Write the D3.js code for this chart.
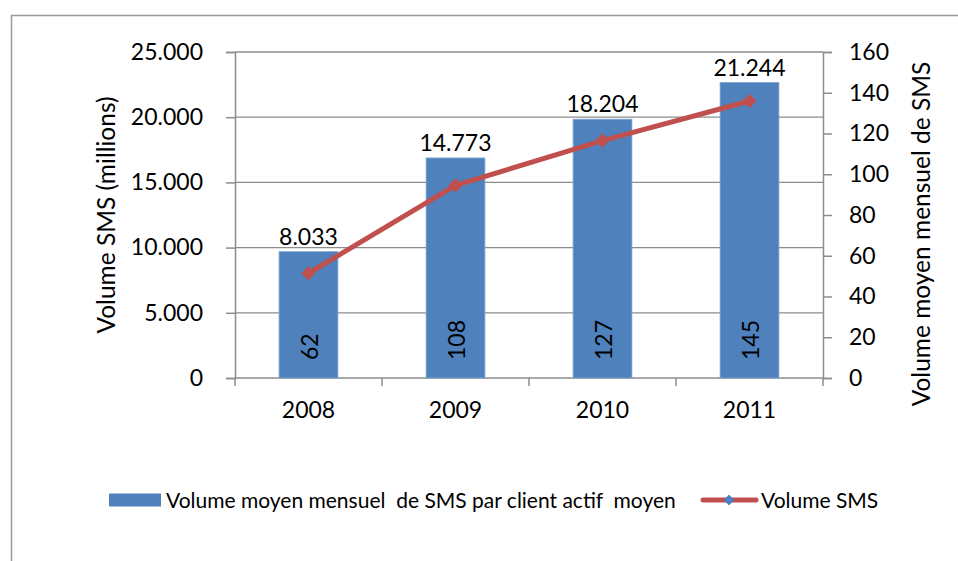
<!DOCTYPE html>
<html>
<head>
<meta charset="utf-8">
<script src="https://cdn.jsdelivr.net/npm/d3@7"></script>
<style>
  html, body { margin: 0; padding: 0; background: #fff; }
  svg { display: block; font-family: Lato, "Liberation Sans", sans-serif; }
</style>
</head>
<body>
<svg id="chart" width="958" height="561"></svg>
<script>
// Years on the category axis
const years = ["2008", "2009", "2010", "2011"];
// Average monthly SMS per active customer (bars, right axis)
const smsPerClient = [62, 108, 127, 145];
// Total SMS volume in millions (line, left axis)
const smsVolume = [8033, 14773, 18204, 21244];
// Axis ticks
const leftTicks = [0, 5000, 10000, 15000, 20000, 25000];
const rightTicks = [0, 20, 40, 60, 80, 100, 120, 140, 160];

const seriesBarName = "Volume moyen mensuel\u00a0 de SMS par client actif\u00a0 moyen";
const seriesLineName = "Volume SMS";

const plot = { left: 235, right: 823, top: 52, bottom: 378 };
const barColor = "#4F81BD";
const lineColor = "#C0504D";
const gridColor = "#8c8c8c";
const tickFont = 23;

const svg = d3.select("#chart");

// Chart frame
svg.append("rect")
  .attr("x", 11.5).attr("y", 15.5)
  .attr("width", 960).attr("height", 600)
  .attr("fill", "none").attr("stroke", "#999").attr("stroke-width", 1.5);

const x = d3.scaleBand().domain(years).range([plot.left, plot.right]);
const yLeft = d3.scaleLinear().domain([0, 25000]).range([plot.bottom, plot.top]);
const yRight = d3.scaleLinear().domain([0, 160]).range([plot.bottom, plot.top]);

const fmt = v => d3.format(",")(v).replace(/,/g, ".");

// Horizontal gridlines
svg.append("g").selectAll("line").data(leftTicks.filter(t => t > 0)).join("line")
  .attr("x1", plot.left).attr("x2", plot.right)
  .attr("y1", d => yLeft(d)).attr("y2", d => yLeft(d))
  .attr("stroke", gridColor).attr("stroke-width", 1.3);

// Left axis
const gl = svg.append("g").attr("transform", `translate(${plot.left},0)`)
  .call(d3.axisLeft(yLeft).tickValues(leftTicks).tickFormat(fmt).tickSize(9).tickPadding(23));
// Right axis
const gr = svg.append("g").attr("transform", `translate(${plot.right},0)`)
  .call(d3.axisRight(yRight).tickValues(rightTicks).tickSize(9).tickPadding(17));
// Bottom axis, ticks at category boundaries
const boundaries = years.map(y => x(y)).concat([plot.right]);
const gb = svg.append("g").attr("transform", `translate(0,${plot.bottom})`)
  .call(d3.axisBottom(x).tickSize(0).tickPadding(24));
gb.selectAll(".bound").data(boundaries).join("line").attr("class", "bound")
  .attr("x1", d => d).attr("x2", d => d).attr("y1", 0).attr("y2", 8)
  .attr("stroke", gridColor).attr("stroke-width", 1.5);

[gl, gr, gb].forEach(g => {
  g.select(".domain").attr("stroke", gridColor).attr("stroke-width", 1.5);
  g.selectAll(".tick line").attr("stroke", gridColor).attr("stroke-width", 1.5);
  g.selectAll("text").attr("font-size", tickFont).attr("fill", "#000")
    .attr("font-family", "Lato, 'Liberation Sans', sans-serif");
});
gb.select(".domain").attr("d", `M${plot.left},0H${plot.right}`);

// Bars
const bw = x.bandwidth() * 0.4;
const bx = d => x(d) + (x.bandwidth() - bw) / 2;
svg.append("g").selectAll("rect").data(years).join("rect")
  .attr("x", d => bx(d))
  .attr("y", (d, i) => yRight(smsPerClient[i]))
  .attr("width", bw)
  .attr("height", (d, i) => plot.bottom - yRight(smsPerClient[i]))
  .attr("fill", barColor)
  .attr("stroke", "#7ea3d2").attr("stroke-width", 0.8);

// Bar value labels, rotated at the base
svg.append("g").selectAll("text").data(years).join("text")
  .attr("transform", d => `translate(${x(d) + x.bandwidth() / 2 + 9},${plot.bottom - 18}) rotate(-90)`)
  .attr("font-size", tickFont).attr("fill", "#000")
  .text((d, i) => smsPerClient[i]);

// Volume labels above the bars
svg.append("g").selectAll("text").data(years).join("text")
  .attr("x", d => x(d) + x.bandwidth() / 2)
  .attr("y", (d, i) => yRight(smsPerClient[i]) - 7)
  .attr("text-anchor", "middle")
  .attr("font-size", tickFont).attr("fill", "#000")
  .text((d, i) => fmt(smsVolume[i]));

// Line series
const cx = d => x(d) + x.bandwidth() / 2;
const line = d3.line().x(d => cx(d.year)).y(d => yLeft(d.v));
const pts = years.map((y, i) => ({ year: y, v: smsVolume[i] }));
svg.append("path").datum(pts)
  .attr("d", line).attr("fill", "none")
  .attr("stroke", lineColor).attr("stroke-width", 5).attr("stroke-linejoin", "round");

const diamond = d3.symbol().type(d3.symbolSquare).size(100);
svg.append("g").selectAll("path").data(pts).join("path")
  .attr("transform", d => `translate(${cx(d.year)},${yLeft(d.v)}) rotate(45)`)
  .attr("d", diamond).attr("fill", lineColor);

// Axis titles
svg.append("text")
  .attr("transform", "translate(115,215) rotate(-90)")
  .attr("text-anchor", "middle").attr("font-size", 24.5).attr("fill", "#000")
  .text("Volume SMS (millions)");
svg.append("text")
  .attr("transform", "translate(930,234) rotate(-90)")
  .attr("text-anchor", "middle").attr("font-size", 24.5).attr("fill", "#000")
  .text("Volume moyen mensuel de SMS");

// Legend
const lg = svg.append("g").attr("transform", "translate(0,500)");
lg.append("rect").attr("x", 109).attr("y", -6.5).attr("width", 52).attr("height", 13).attr("fill", barColor);
lg.append("text").attr("x", 166).attr("y", 7.5).attr("font-size", 21).attr("fill", "#000").text(seriesBarName);
lg.append("line").attr("x1", 703).attr("x2", 756).attr("y1", 0).attr("y2", 0)
  .attr("stroke", lineColor).attr("stroke-width", 5).attr("stroke-linecap", "round");
lg.append("path").attr("transform", "translate(729,0) rotate(45)")
  .attr("d", d3.symbol().type(d3.symbolSquare).size(40))
  .attr("fill", barColor).attr("stroke", "#3a78c9").attr("stroke-width", 1);
lg.append("text").attr("x", 761).attr("y", 7.5).attr("font-size", 21).attr("fill", "#000").text(seriesLineName);
</script>
</body>
</html>
